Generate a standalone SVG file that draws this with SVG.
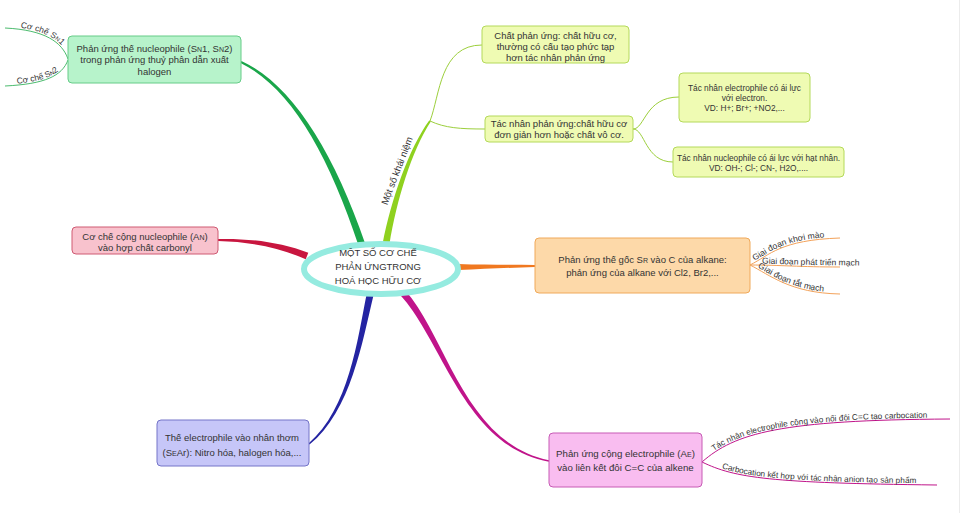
<svg xmlns="http://www.w3.org/2000/svg" width="961" height="513" viewBox="0 0 961 513">
<style>
text{font-family:"Liberation Sans",Arial,sans-serif;fill:#333;}
.t{font-size:9.5px;text-anchor:middle;}
.ts{font-size:8.3px;text-anchor:middle;}
.lab{font-size:8.5px;}
.box{stroke-width:1;}
.sub{fill:none;stroke-width:1;}
</style>
<defs>
<path id="pSn1" d="M5,28 C45,30 62,42 68,59"/>
<path id="pSn2" d="M5,86 C45,84 62,76 68,60"/>
<path id="pO1" d="M750,265 C770,255 780,240 840,238"/>
<path id="pO2" d="M750,265 C780,265 800,267 840,267"/>
<path id="pO3" d="M750,265 C770,275 790,293 840,294"/>
<path id="pO2t" d="M750,265 C780,265 800,267 870,267"/>
<path id="pM1" d="M702,462 C735,433 780,420 950,419"/>
<path id="pM2" d="M702,462 C735,478 770,483 937,485"/>
</defs>
<rect x="0" y="0" width="961" height="513" fill="#fff"/>
<line x1="959.5" y1="0" x2="959.5" y2="513" stroke="#ececec" stroke-width="1"/>

<g id="connectors">
  <path fill="#1aa64a" d="M241.4,61.1 C290.8,83.4 332.6,149.1 365.3,243.9 L358.7,246.1 C327.4,150.9 289.2,86.6 240.6,62.9 Z"/>
  <path fill="#8fd11f" d="M430.8,121.6 C411.5,151 396.7,200.5 389.4,244.6 L382.6,243.4 C391.3,199.5 408.5,149 429.2,120.4 Z"/>
  <path fill="#f07820" d="M535,267 C510,267.6 485,269 458,270 L458,264 C485,265 510,264.4 535,265 Z"/>
  <path fill="#c8163f" d="M218,239 C250,238.2 281,242.5 308.3,252.8 L305.7,259.2 C279,247.5 250,241.8 218,241 Z"/>
  <path fill="#2424a2" d="M308.5,443.4 C348.9,408.7 357.5,339.4 366.6,294.2 L373.4,295.8 C362.5,340.6 351.1,411.3 309.5,444.6 Z"/>
  <path fill="#c0148a" d="M548.9,461.7 C464.7,446.7 443.1,341.7 400.4,295.3 L405.6,290.7 C446.9,338.3 465.3,443.3 549.1,460.3 Z"/>
  <use href="#pSn1" class="sub" stroke="#4cbb6e"/>
  <use href="#pSn2" class="sub" stroke="#4cbb6e"/>
  <path class="sub" stroke="#9ccf3c" stroke-width="1.3" d="M430,121 C440,95 440,45 482,45"/>
  <path class="sub" stroke="#9ccf3c" stroke-width="1.3" d="M430,121 C445,128 460,129 485,129"/>
  <path class="sub" stroke="#9ccf3c" d="M633,129 C645,129 645,97 679,97"/>
  <path class="sub" stroke="#9ccf3c" d="M633,129 C645,129 645,162 673,162"/>
  <use href="#pO1" class="sub" stroke="#f3a25a"/>
  <use href="#pO2" class="sub" stroke="#f3a25a"/>
  <use href="#pO3" class="sub" stroke="#f3a25a"/>
  <use href="#pM1" class="sub" stroke="#c0148a"/>
  <use href="#pM2" class="sub" stroke="#c0148a"/>
  <text class="lab" font-size="8.5" dy="-1.5"><textPath href="#pSn1" startOffset="15">Cơ chế S<tspan font-size="6">N</tspan>1</textPath></text>
  <text class="lab" font-size="8.5" dy="-1.5"><textPath href="#pSn2" startOffset="12">Cơ chế S<tspan font-size="6">N</tspan>2</textPath></text>
  <text style="font-size:9.5px;text-anchor:middle" transform="translate(400,172) rotate(-69)">Một số khái niệm</text>
  <text class="lab" dy="-1.5"><textPath href="#pO1" startOffset="6">Giai đoạn khơi mào</textPath></text>
  <text class="lab" dy="-1.5"><textPath href="#pO2t" startOffset="12">Giai đoạn phát triển mạch</textPath></text>
  <text class="lab" dy="-1.5"><textPath href="#pO3" startOffset="8">Giai đoạn tắt mạch</textPath></text>
  <text class="lab" style="font-size:8.2px" dy="-1.5"><textPath href="#pM1" startOffset="16">Tác nhân electrophile cộng vào nối đôi C=C tạo carbocation</textPath></text>
  <text class="lab" style="font-size:8.2px" dy="-1.5"><textPath href="#pM2" startOffset="21">Carbocation kết hợp với tác nhân anion tạo sản phẩm</textPath></text>
</g>

<g id="center">
  <ellipse cx="381" cy="269" rx="77" ry="25" fill="#fff" stroke="#95ebe0" stroke-width="6"/>
  <text class="t" style="font-size:9.5px"><tspan x="378" y="256">MỘT SỐ CƠ CHẾ</tspan><tspan x="378" y="270">PHẢN ỨNGTRONG</tspan><tspan x="378" y="284">HOÁ HỌC HỮU CƠ</tspan></text>
</g>

<g id="node-sn">
  <rect class="box" x="68" y="36" width="173" height="47" rx="4" fill="#b7f3cb" stroke="#66cc88"/>
  <text class="t"><tspan x="154.5" y="51.5">Phản ứng thế nucleophile (S<tspan font-size="7">N</tspan>1, S<tspan font-size="7">N</tspan>2)</tspan><tspan x="154.5" y="63">trong phản ứng thuỷ phân dẫn xuất</tspan><tspan x="154.5" y="74.5">halogen</tspan></text>
</g>

<g id="node-chat">
  <rect class="box" x="482" y="26" width="147" height="37" rx="4" fill="#effbb3" stroke="#b4d95a"/>
  <text class="t"><tspan x="555.5" y="38.5">Chất phản ứng: chất hữu cơ,</tspan><tspan x="555.5" y="49.5">thường có cấu tạo phức tạp</tspan><tspan x="555.5" y="60.5">hơn tác nhân phản ứng</tspan></text>
</g>

<g id="node-tacnhan">
  <rect class="box" x="485" y="116" width="148" height="26" rx="4" fill="#effbb3" stroke="#b4d95a"/>
  <text class="t"><tspan x="559" y="126.5">Tác nhân phản ứng:chất hữu cơ</tspan><tspan x="559" y="138">đơn giản hơn hoặc chất vô cơ.</tspan></text>
</g>

<g id="node-electrophile">
  <rect class="box" x="679" y="73" width="131" height="49" rx="4" fill="#effbb3" stroke="#b4d95a"/>
  <text class="ts"><tspan x="744.5" y="91">Tác nhân electrophile có ái lực</tspan><tspan x="744.5" y="101">với electron.</tspan><tspan x="744.5" y="110.5">VD: H+; Br+; +NO2,...</tspan></text>
</g>

<g id="node-nucleophile">
  <rect class="box" x="673" y="147" width="171" height="30" rx="4" fill="#effbb3" stroke="#b4d95a"/>
  <text class="ts"><tspan x="758.5" y="161">Tác nhân nucleophile có ái lực với hạt nhân.</tspan><tspan x="758.5" y="171">VD: OH-; Cl-; CN-, H2O,....</tspan></text>
</g>

<g id="node-sr">
  <rect class="box" x="535" y="238" width="215" height="55" rx="4" fill="#fdd9a9" stroke="#f0a95a"/>
  <text class="t"><tspan x="642.5" y="263">Phản ứng thế gốc S<tspan font-size="7">R</tspan> vào C của alkane:</tspan><tspan x="642.5" y="276">phản ứng của alkane với Cl2, Br2,...</tspan></text>
</g>

<g id="node-an">
  <rect class="box" x="72" y="227" width="146" height="27" rx="4" fill="#f8c2cd" stroke="#cf5a73"/>
  <text class="t"><tspan x="145" y="239.5">Cơ chế cộng nucleophile (A<tspan font-size="7">N</tspan>)</tspan><tspan x="145" y="250.5">vào hợp chất carbonyl</tspan></text>
</g>

<g id="node-sear">
  <rect class="box" x="157" y="420" width="152" height="46" rx="4" fill="#c6c6f8" stroke="#7474c8"/>
  <text class="t"><tspan x="232" y="441">Thế electrophile vào nhân thơm</tspan><tspan x="232" y="455.5">(S<tspan font-size="7">E</tspan>Ar): Nitro hóa, halogen hóa,...</tspan></text>
</g>

<g id="node-ae">
  <rect class="box" x="549" y="433" width="153" height="54" rx="4" fill="#f9bdf0" stroke="#c75bb5"/>
  <text class="t" style="font-size:9.7px"><tspan x="625.5" y="457">Phản ứng cộng electrophile (A<tspan font-size="7">E</tspan>)</tspan><tspan x="625.5" y="470.5">vào liên kết đôi C=C của alkene</tspan></text>
</g>
</svg>
